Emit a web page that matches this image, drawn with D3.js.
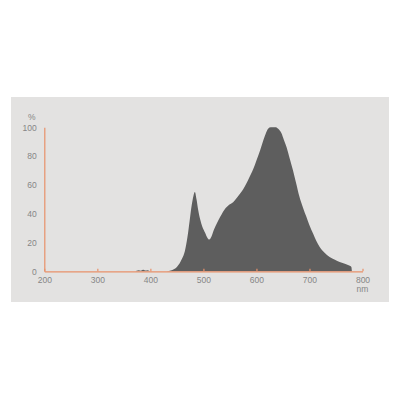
<!DOCTYPE html>
<html lang="en">
	<head>
		<meta charset="utf-8">
		<title>spectrum</title>
		<script type="text/javascript" src="https://d3js.org/d3.v7.min.js"></script>
		<style type="text/css">
            body{margin:0;background:#fff;font-family:"Liberation Sans",Arial,sans-serif;}
            .axis text{fill:#868686;font-size:8.5px;font-family:"Liberation Sans",Arial,sans-serif;}
            .axis path,.axis line{stroke:#e8916a;stroke-width:1.2;}
		</style>
	</head>
	<body>
    <div id="chart1"></div>
		<script type="text/javascript">
            // spectral power distribution
            var wavelengths = [200,370,378,382,386,390,395,400,430,440,450,460,465,470,474,478,481,484,487,490,494,498,503,508,511,515,520,525,532,540,548,556,565,575,585,594,600,607,613,618,622,627,636,641,647,652,657,663,669,675,681,688,694,700,707,713,719,728,738,748,757,768,775,779,780]
            var intensity   = [0,0,0.8,0.4,1.0,0.5,0.8,0,0,0.8,3,9,14,24,35,46,52,55,50,43,36,31,27,23,22,24,29,33,38,43,46,48,52,57,64,71,77,84,91,96,99,100,100,99,96,91,86,78,70,61,52,44,38,32,26,21,17,13,10,8,6.5,5,4,3,0]
            var xTicks = [200,300,400,500,600,700,800]
            var yTicks = [0,20,40,60,80,100]

            var w = 400
            var h = 400
            var svg = d3.select("#chart1")
                        .append("svg")
                        .attr("width",w)
                        .attr("height",h)

            // grey panel
            svg.append("rect")
                .attr("x",11)
                .attr("y",97)
                .attr("width",378)
                .attr("height",205)
                .attr("fill","#e3e2e1")

            var xScale = d3.scaleLinear().domain([200,800]).range([44.3,362.5])
            var yScale = d3.scaleLinear().domain([0,100]).range([271.3,127.3])

            var data = wavelengths.map(function(d,i){ return {nm:d,v:intensity[i]} })

            var area = d3.area()
                .x(function(d){ return xScale(d.nm) })
                .y0(yScale(0))
                .y1(function(d){ return yScale(d.v) })
                .curve(d3.curveMonotoneX)

            svg.append("path")
                .datum(data)
                .attr("d",area)
                .attr("fill","#5e5e5e")

            svg.append("g")
                .attr("class","axis")
                .attr("transform","translate(0,"+yScale(0)+")")
                .call(d3.axisBottom(xScale).tickValues(xTicks).tickSizeInner(-2.5).tickSizeOuter(0).tickPadding(6))

            svg.append("g")
                .attr("class","axis")
                .attr("transform","translate("+xScale(200)+",0)")
                .call(d3.axisLeft(yScale).tickValues(yTicks).tickSizeInner(0).tickSizeOuter(0).tickPadding(7.5))

            svg.selectAll(".axis .domain").attr("fill","none")
            svg.selectAll(".axis text").attr("font-family",null).attr("font-size",null)

            // unit labels
            svg.append("text")
                .attr("x",31.7)
                .attr("y",116.7)
                .attr("dy","0.35em")
                .attr("text-anchor","middle")
                .attr("fill","#868686")
                .style("font-size","8.5px")
                .text("%")
            svg.append("text")
                .attr("x",xScale(800))
                .attr("y",289)
                .attr("dy","0.35em")
                .attr("text-anchor","middle")
                .attr("fill","#868686")
                .style("font-size","8.5px")
                .text("nm")
        </script>
	</body>
</html>
